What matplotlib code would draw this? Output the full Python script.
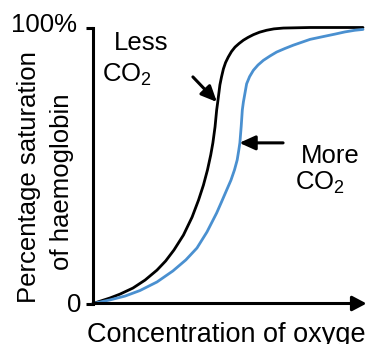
import matplotlib
matplotlib.use("Agg")
import matplotlib.pyplot as plt

plt.rcParams['font.family'] = ['Liberation Sans', 'DejaVu Sans']
plt.rcParams['mathtext.fontset'] = 'custom'
plt.rcParams['mathtext.rm'] = 'Liberation Sans'
plt.rcParams['mathtext.it'] = 'Liberation Sans:italic'

# Oxygen dissociation curves (oxygen concentration vs % saturation)
lessCO2_x = [0.0, 6.3, 10.0, 14.8, 19.3, 23.7, 26.9, 30.0, 33.5, 36.7, 39.1, 40.9,
             42.4, 43.6, 44.4, 45.2, 45.8, 46.2, 47.0, 47.6, 48.3, 49.1, 50.1, 51.3,
             52.6, 54.1, 55.7, 57.4, 59.4, 61.7, 64.3, 67.0, 70.5, 80.4, 100.0]
lessCO2_y = [0.0, 2.0, 3.4, 5.6, 8.5, 12.1, 15.4, 19.4, 24.8, 31.3, 37.5, 42.9,
             48.4, 53.8, 58.2, 64.0, 70.1, 73.0, 79.2, 82.1, 85.0, 87.3, 89.3, 91.3,
             92.9, 94.2, 95.4, 96.4, 97.4, 98.3, 99.0, 99.5, 99.8, 100.0, 100.0]

moreCO2_x = [0.0, 6.3, 11.9, 17.4, 23.7, 29.6, 34.4, 38.5, 42.2, 45.8, 47.6, 49.5,
             51.1, 52.4, 53.4, 54.0, 54.4, 54.9, 55.3, 55.7, 56.9, 58.0, 59.4, 61.1,
             63.1, 65.6, 68.0, 71.1, 74.2, 80.4, 85.2, 89.6, 93.3, 97.0, 100.0]
moreCO2_y = [0.0, 1.3, 2.7, 4.7, 7.8, 11.8, 15.8, 20.1, 25.9, 32.8, 36.8, 41.1,
             44.7, 48.4, 52.0, 55.6, 58.2, 64.3, 70.1, 73.0, 79.6, 82.2, 84.5, 86.4,
             88.1, 89.7, 91.1, 92.4, 93.6, 95.7, 96.7, 97.6, 98.4, 99.0, 99.3]

W, H = 366, 344
FS = 18.5


def pix(x, y):
    # pixel position (from top-left) to figure fraction
    return x / W, 1 - y / H


fig = plt.figure(figsize=(W / 100, H / 100), dpi=100)
ax = fig.add_axes([93 / W, (H - 303.5) / H, 270 / W, 276 / H])
ax.set_xlim(0, 100)
ax.set_ylim(0, 100)

ax.plot(lessCO2_x, lessCO2_y, color='black', lw=2.0, clip_on=False,
        solid_capstyle='round', solid_joinstyle='round')
ax.plot(moreCO2_x, moreCO2_y, color='#4a90d0', lw=2.0, clip_on=False,
        solid_capstyle='round', solid_joinstyle='round')

# axes: plain left spine, arrow for x
for s in ['top', 'right', 'bottom']:
    ax.spines[s].set_visible(False)
ax.spines['left'].set_linewidth(2.2)
ax.set_xticks([])
ax.set_yticks([0, 100])
ax.set_yticklabels([])
ax.tick_params(axis='y', length=5, width=2.2, direction='out')

ax.annotate('', xy=(101.3, 0), xytext=(0, 0), annotation_clip=False,
            arrowprops=dict(arrowstyle='-|>,head_length=0.85,head_width=0.45',
                            mutation_scale=10, lw=2.2, color='black',
                            shrinkA=0, shrinkB=0))

# pointer arrows to each curve
arrow = dict(arrowstyle='-|>,head_length=0.95,head_width=0.43',
             mutation_scale=10, lw=2.2, color='black', shrinkA=0, shrinkB=0)
ax.annotate('', xy=(45.9, 73.0), xytext=(37.0, 82.1), arrowprops=arrow)
ax.annotate('', xy=(54.2, 58.2), xytext=(70.4, 58.2), arrowprops=arrow)

fig.text(*pix(77, 32), '100%', fontsize=FS, ha='right', va='baseline')
fig.text(*pix(81.5, 312), '0', fontsize=FS, ha='right', va='baseline')

fig.text(*pix(114, 50), 'Less', fontsize=FS, ha='left', va='baseline')
fig.text(*pix(102, 82), r'CO$_2$', fontsize=FS, ha='left', va='baseline')
fig.text(*pix(301, 163), 'More', fontsize=FS, ha='left', va='baseline')
fig.text(*pix(295, 190), r'CO$_2$', fontsize=FS, ha='left', va='baseline')

fig.text(*pix(87, 342), 'Concentration of oxygen', fontsize=19.5,
         ha='left', va='baseline')
fig.text(*pix(36, 177.5), 'Percentage saturation', fontsize=FS, rotation=90,
         rotation_mode='anchor', ha='center', va='baseline')
fig.text(*pix(69.5, 182), 'of haemoglobin', fontsize=FS, rotation=90,
         rotation_mode='anchor', ha='center', va='baseline')

fig.savefig('out.png', dpi=100)
